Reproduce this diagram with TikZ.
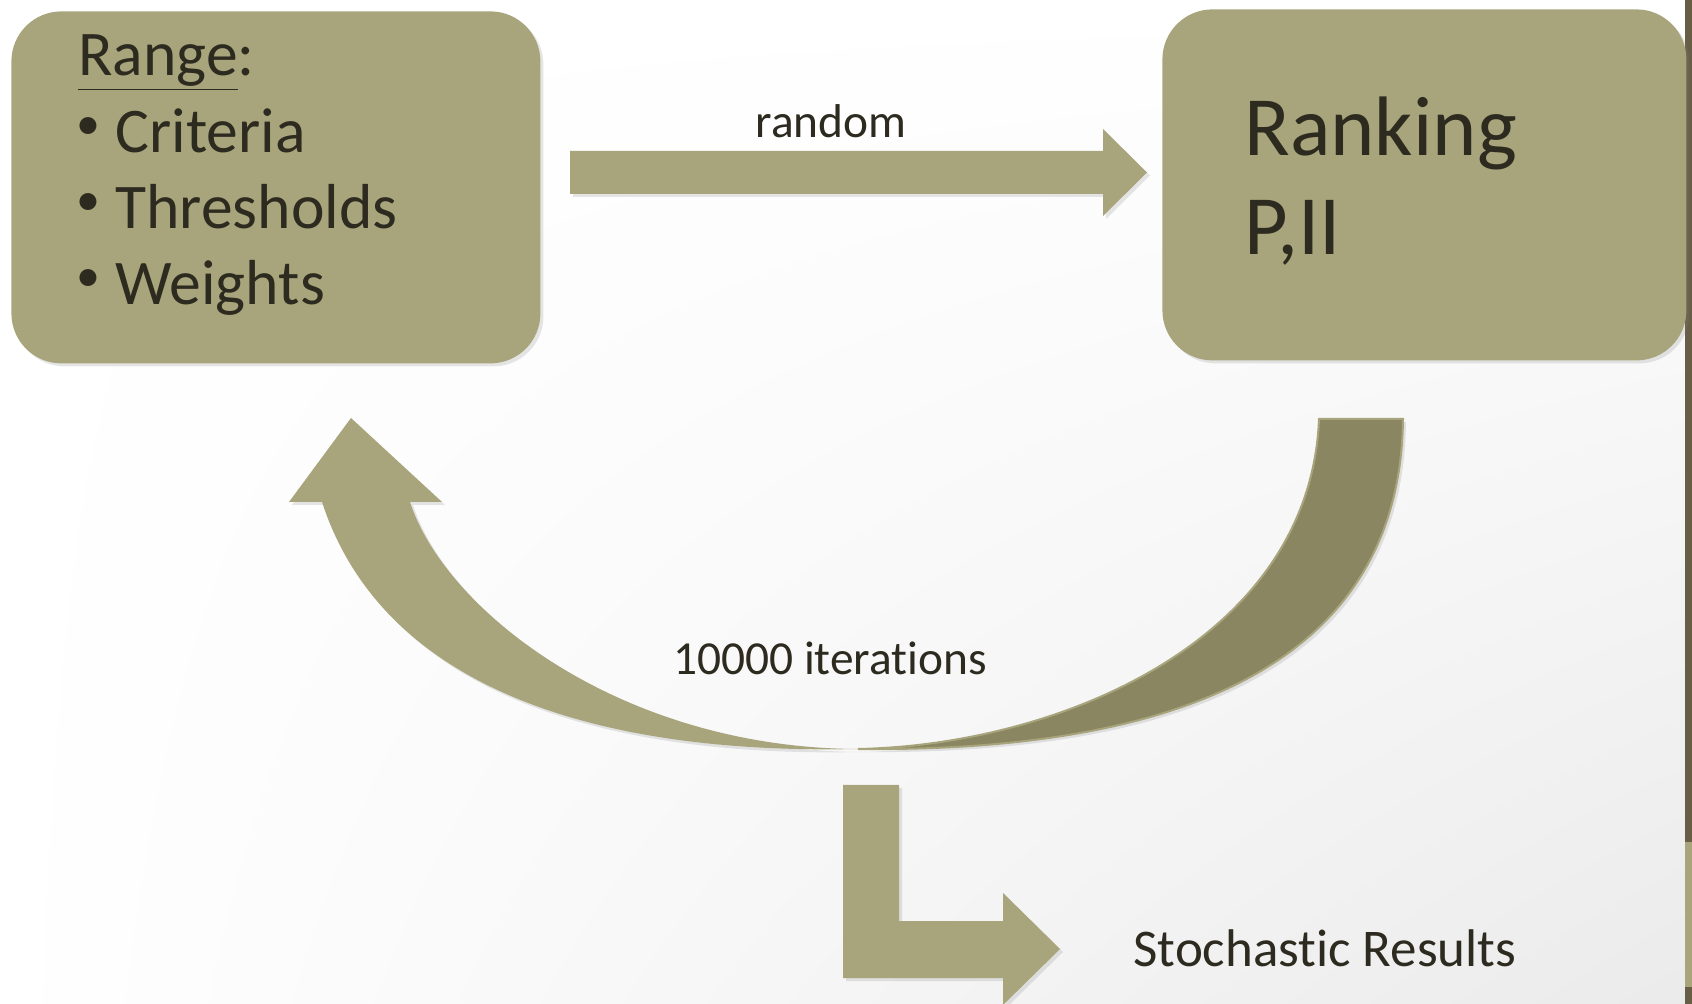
\documentclass[tikz,border=0pt]{standalone}
\usepackage{fontspec}
\setmainfont{Carlito}[Ligatures={NoCommon,NoRequired,NoContextual}]
\usetikzlibrary{shadows,shadings}

\definecolor{khaki}{HTML}{A8A57C}
\definecolor{khakidark}{HTML}{8A8662}
\definecolor{stripdark}{HTML}{685E46}
\definecolor{inktext}{HTML}{2D2A1F}

\begin{document}
\begin{tikzpicture}[
  x=0.5pt, y=-0.5pt,
  softshadow/.style={drop shadow={opacity=0.2, shadow xshift=1.5pt, shadow yshift=-1.5pt}},
  panel/.style={fill=khaki, rounded corners=25pt, inner sep=0pt, anchor=north west, softshadow},
  blockarrow/.style={fill=khaki, softshadow},
  boxtext/.style={inner sep=0pt, anchor=base west, text=inktext, font=\fontsize{31.8}{38}\selectfont},
  bullet/.style={inner sep=0pt, anchor=center, text=inktext, font=\fontsize{24}{24}\selectfont},
  bigtext/.style={inner sep=0pt, anchor=base west, text=inktext, font=\fontsize{42.2}{50}\selectfont},
  labeltext/.style={inner sep=0pt, anchor=base, text=inktext, font=\fontsize{23.7}{28}\selectfont},
]

\clip (0,0) rectangle (1692,1004);
\useasboundingbox (0,0) rectangle (1692,1004);

% Background
\shade[upper left=white, upper right=white, lower left=white, lower right=black!8] (0,0) rectangle (1692,1004);
\fill[stripdark] (1685,0) rectangle (1692,842);
\fill[khaki] (1685,842) rectangle (1692,987);
\fill[stripdark] (1685,987) rectangle (1692,1004);

% Boxes
\node[panel, minimum width=264.5pt, minimum height=176pt] (range) at (11,11) {};
\node[panel, minimum width=262pt, minimum height=175.5pt] (ranking) at (1162,9) {};

% Box texts
\node[boxtext] (rangehead) at (78,76) {\underline{Range}:};
\node[bullet] (b1) at (88.5,129) {•};
\node[boxtext] (criteria) at (115,153) {Criteria};
\node[bullet] (b2) at (88.5,205) {•};
\node[boxtext] (thresholds) at (115,229) {Thresholds};
\node[bullet] (b3) at (88.5,281) {•};
\node[boxtext] (weights) at (115,305) {Weights};

\node[bigtext] (rankhead) at (1244,156) {Ranking};
\node[bigtext] (pii) at (1244,255) {P,II};

% Straight arrow
\coordinate (rndtail) at (570,151);
\path[blockarrow] (rndtail) -- ++(533,0) -- ++(0,-22) -- ++(44,43.5) -- ++(-44,43.5) -- ++(0,-22) -- ++(-533,0) -- cycle;
\node[labeltext] (rndlabel) at (831,138) {random};

% Curved arrow (back part)
\coordinate (loopbottom) at (858,749);
\filldraw[fill=khakidark, draw=khaki, line width=1pt, softshadow] (1319,419) -- (1403,419)
  .. controls (1400,680) and (1150,752) .. (loopbottom)
  .. controls (1060,745) and (1310,640) .. (1319,419) -- cycle;

% Curved arrow (front part with head)
\coordinate (looptip) at (351,418);
\path[blockarrow] (looptip) -- (442,502) -- (410,502)
  .. controls (445,610) and (620,748) .. (loopbottom)
  .. controls (580,755) and (380,680) .. (322,502) -- (289,502) -- cycle;
\node[labeltext] (iterlabel) at (830,675) {10000 iterations};

% Bent arrow
\coordinate (bendtop) at (843,785);
\path[blockarrow] (bendtop) -- ++(56,0) -- ++(0,136) -- ++(104,0) -- ++(0,-28) -- ++(57,56) -- ++(-57,56) -- ++(0,-27) -- ++(-160,0) -- cycle;
\node[labeltext, anchor=base west, font=\fontsize{26.5}{30}\selectfont] (results) at (1133,966) {Stochastic Results};

\end{tikzpicture}
\end{document}
